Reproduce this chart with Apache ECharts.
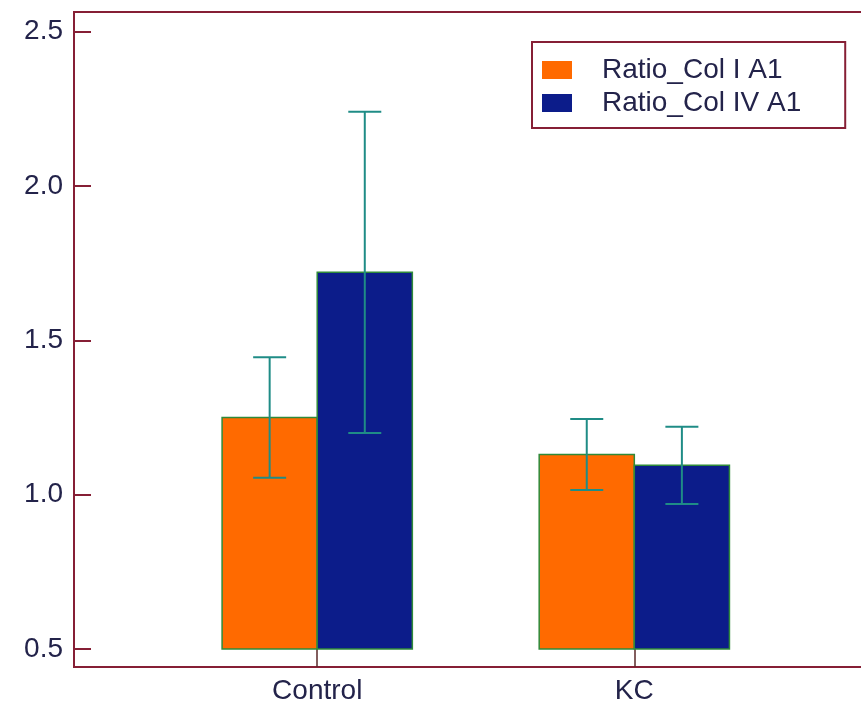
<!DOCTYPE html>
<html>
<head>
<meta charset="utf-8">
<script src="https://cdn.jsdelivr.net/npm/echarts@6/dist/echarts.min.js"></script>
<style>
  html, body { margin: 0; padding: 0; background: #ffffff; }
  #chart { width: 861px; height: 706px; }
</style>
</head>
<body>
<div id="chart"></div>
<script>
// Group labels and series names
const categories = ['Control', 'KC'];
const seriesNames = ['Ratio_Col I A1', 'Ratio_Col IV A1'];

// Mean ratio and error (half-length of the error bar) per group
const colIMeans = [1.25, 1.13];
const colIErrors = [0.195, 0.115];
const colIVMeans = [1.72, 1.095];
const colIVErrors = [0.52, 0.125];

// Value-axis tick labels and the level the bars rise from
const yTicks = [0.5, 1.0, 1.5, 2.0, 2.5];
const barBase = 0.5;

const FRAME = '#861f35';
const TEXT = '#23234a';
const FONT = '"Liberation Sans", Arial, sans-serif';
const BAR_W = 0.3; // bar width in x-axis units

function seriesData(means, errors) {
  return categories.map((c, i) => [i + 1, means[i], errors[i]]);
}

function makeRenderer(offset, fill) {
  return function (params, api) {
    const x = api.value(0) + offset;
    const v = api.value(1);
    const e = api.value(2);
    const p0 = api.coord([x, barBase]);
    const p1 = api.coord([x + BAR_W, v]);
    const cx = api.coord([x + BAR_W / 2, v])[0];
    const yTop = api.coord([x, v + e])[1];
    const yBot = api.coord([x, v - e])[1];
    const cap = 16.5;
    const eb = { stroke: '#1f8c86', lineWidth: 2 };
    return {
      type: 'group',
      children: [
        {
          type: 'rect',
          shape: { x: p0[0], y: p1[1], width: p1[0] - p0[0], height: p0[1] - p1[1] },
          style: { fill: fill, stroke: '#2f8a3a', lineWidth: 1.5 }
        },
        { type: 'line', shape: { x1: cx, y1: yTop, x2: cx, y2: yBot }, style: eb },
        { type: 'line', shape: { x1: cx - cap, y1: yTop, x2: cx + cap, y2: yTop }, style: eb },
        { type: 'line', shape: { x1: cx - cap, y1: yBot, x2: cx + cap, y2: yBot }, style: eb }
      ]
    };
  };
}

const chart = echarts.init(document.getElementById('chart'), null, { renderer: 'canvas' });

chart.setOption({
  backgroundColor: '#ffffff',
  animation: false,
  grid: {
    left: 74, width: 814, top: 12, bottom: 39,
    outerBoundsMode: 'none',
    containLabel: false,
    show: true, borderColor: FRAME, borderWidth: 2, backgroundColor: 'transparent'
  },
  legend: {
    orient: 'vertical',
    left: 532, top: 42,
    padding: [12, 44, 9, 10],
    itemGap: 1,
    itemWidth: 30, itemHeight: 18,
    borderColor: FRAME, borderWidth: 2,
    icon: 'rect',
    textStyle: { color: TEXT, fontSize: 28, fontFamily: FONT, lineHeight: 32, padding: [0, 0, 0, 25] },
    data: [
      { name: seriesNames[0], itemStyle: { color: '#ff6a00' } },
      { name: seriesNames[1], itemStyle: { color: '#0c1c8a' } }
    ]
  },
  xAxis: {
    type: 'value',
    min: 0.233, max: 2.8,
    splitLine: { show: false },
    axisLine: { show: true, lineStyle: { color: FRAME, width: 2 } },
    axisTick: { show: true, inside: true, length: 18, customValues: [1, 2], lineStyle: { color: '#5a2a2a', width: 1.5 } },
    axisLabel: {
      customValues: [1, 2],
      formatter: v => categories[Math.round(v) - 1] || '',
      color: TEXT, fontSize: 28, fontFamily: FONT, margin: 10
    }
  },
  yAxis: {
    type: 'value',
    min: 0.442, max: 2.563,
    splitLine: { show: false },
    axisLine: { show: true, lineStyle: { color: FRAME, width: 2 } },
    axisTick: { show: true, inside: true, length: 17, customValues: yTicks, lineStyle: { color: FRAME, width: 2 } },
    axisLabel: {
      customValues: yTicks,
      formatter: v => v.toFixed(1),
      color: TEXT, fontSize: 28, fontFamily: FONT, margin: 11
    }
  },
  series: [
    {
      name: seriesNames[0],
      type: 'custom',
      itemStyle: { color: '#ff6a00' },
      renderItem: makeRenderer(-BAR_W, '#ff6a00'),
      encode: { x: 0, y: 1 },
      data: seriesData(colIMeans, colIErrors)
    },
    {
      name: seriesNames[1],
      type: 'custom',
      itemStyle: { color: '#0c1c8a' },
      renderItem: makeRenderer(0, '#0c1c8a'),
      encode: { x: 0, y: 1 },
      data: seriesData(colIVMeans, colIVErrors)
    }
  ]
});
</script>
</body>
</html>
